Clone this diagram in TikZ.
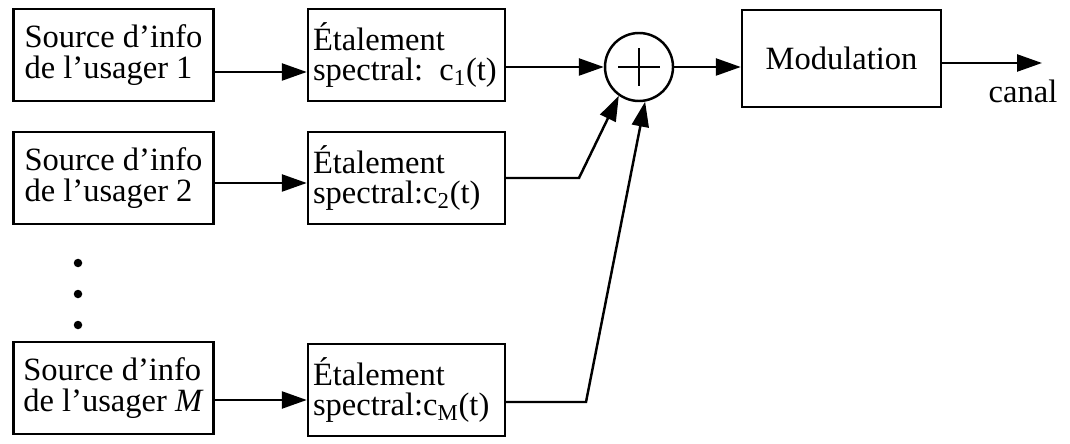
\documentclass[tikz,border=0pt]{standalone}
\usepackage{fontspec}
\setmainfont{Liberation Serif}
\usepackage{tikz}
\usetikzlibrary{arrows.meta,positioning,calc}

\tikzset{
  >={Triangle[length=5mm,width=3.4mm]},
  blk/.style={draw, line width=1.4pt, minimum height=1.85cm, inner ysep=0pt,
    inner xsep=0.08cm, font=\fontsize{18.5}{17.5}\selectfont},
  srcbox/.style={blk, minimum width=4cm, align=left},
  sprbox/.style={blk, text width=3.74cm, inner xsep=0.1cm, align=left},
  wire/.style={line width=1.4pt},
}

\begin{document}
\begin{tikzpicture}
    \useasboundingbox (0,0) rectangle (21.4,8.86);

    % sources des usagers
    \node[srcbox] (src1) at (2.27,7.76) {Source d’info\\de l’usager 1};
    \node[srcbox] (src2) at (2.27,5.30) {Source d’info\\de l’usager 2};
    \node[srcbox] (srcM) at (2.27,1.10) {Source d’info\\de l’usager \textit{M}};

    % points de suspension
    \fill (1.56,3.60) circle (0.085);
    \fill (1.56,2.98) circle (0.085);
    \fill (1.56,2.36) circle (0.085);

    % etalement spectral
    \node[sprbox] (spr1) at (8.13,7.76) {Étalement\\spectral: c\textsubscript{1}(t)};
    \node[sprbox] (spr2) at (8.13,5.30) {Étalement\\spectral:c\textsubscript{2}(t)};
    \node[sprbox] (sprM) at (8.13,1.06) {Étalement\\spectral:c\textsubscript{M}(t)};

    % sommateur
    \node[circle, draw, line width=1.4pt, minimum size=1.36cm, inner sep=0pt] (sum) at (12.78,7.52) {};
    \draw[wire] ([xshift=-4.2mm]sum.center) -- ([xshift=4.2mm]sum.center);
    \draw[wire] ([yshift=-3.8mm]sum.center) -- ([yshift=3.8mm]sum.center);

    \node[blk, minimum width=3.98cm, minimum height=1.94cm] (mod) at (16.83,7.69) {Modulation};

    \coordinate (k2) at (11.58,5.30);
    \coordinate (kM) at (11.72,0.82);
    \coordinate (out) at (20.84,7.60);
    \node[anchor=base, font=\fontsize{18.5}{17.5}\selectfont] (canal) at (20.46,6.80) {canal};

    \draw[wire,->] ([yshift=-3.4mm]src1.east) -- ([yshift=-3.4mm]spr1.west);
    \draw[wire,->] ([yshift=-1mm]src2.east) -- ([yshift=-1mm]spr2.west);
    \draw[wire,->] ([yshift=-2.4mm]srcM.east) -- ([yshift=-2.4mm]srcM.east -| sprM.west);

    \draw[wire,->] (spr1.east |- sum) -- (sum);
    \draw[wire,->] (spr2.east |- k2) -- (k2) -- (sum.-125);
    \draw[wire,->] (sprM.east |- kM) -- (kM) -- (sum.-80);

    \draw[wire,->] (sum) -- (sum -| mod.west);
    \draw[wire,->] (mod.east |- out) -- (out);
\end{tikzpicture}
\end{document}
